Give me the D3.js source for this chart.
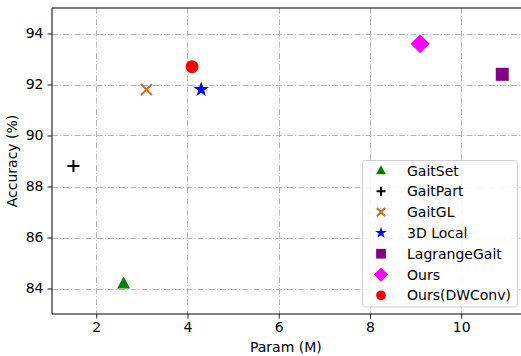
<!DOCTYPE html>
<html>
<head>
<meta charset="utf-8">
<script src="https://cdn.jsdelivr.net/npm/d3@7"></script>
<style>
  html, body { margin: 0; padding: 0; background: #fff; }
  svg text { font-family: "DejaVu Sans", sans-serif; }
</style>
</head>
<body>
<svg id="chart" width="521" height="356"></svg>
<script>
// 数据
var methods = ['GaitSet', 'GaitPart', 'GaitGL', '3D Local', 'LagrangeGait', 'Ours', 'Ours(DWConv)']
var params = [2.6, 1.5, 3.1, 4.3, 10.9, 9.1, 4.1]
var accs = [84.2, 88.8, 91.8, 91.8, 92.4, 93.6, 92.7]
var colors = ['green', '#000000', '#d2691e', 'blue', 'purple', '#ff00ff', 'red']
var shapes = ['triangle', 'plus', 'x', 'star', 'square', 'diamond', 'circle']
var xTicks = [2, 4, 6, 8, 10]
var yTicks = [84, 86, 88, 90, 92, 94]

var svg = d3.select('#chart')
var pLeft = 52, pRight = 523.7, pTop = 8, pBottom = 314

var x = d3.scaleLinear().domain([1.03, 11.37]).range([pLeft, pRight])
var y = d3.scaleLinear().domain([83, 95]).range([pBottom, pTop])

//网格线
var grid = svg.append('g').attr('class', 'grid')
grid.selectAll('.gx').data(xTicks).enter().append('line')
  .attr('x1', function(d){ return Math.round(x(d)) + 0.5 })
  .attr('x2', function(d){ return Math.round(x(d)) + 0.5 })
  .attr('y1', pTop).attr('y2', pBottom)
grid.selectAll('.gy').data(yTicks).enter().append('line')
  .attr('y1', function(d){ return Math.round(y(d)) + 0.5 })
  .attr('y2', function(d){ return Math.round(y(d)) + 0.5 })
  .attr('x1', pLeft).attr('x2', pRight)
grid.selectAll('line')
  .attr('stroke', '#b0b0b0')
  .attr('stroke-width', 0.9)
  .attr('stroke-dasharray', '6,2,1.2,2')

//坐标轴
var xAxis = d3.axisBottom(x).tickValues(xTicks).tickSize(4.5).tickPadding(4)
var yAxis = d3.axisLeft(y).tickValues(yTicks).tickSize(4.5).tickPadding(4)

var gx = svg.append('g').attr('transform', 'translate(0,' + pBottom + ')').call(xAxis)
var gy = svg.append('g').attr('transform', 'translate(' + pLeft + ',0)').call(yAxis)
;[gx, gy].forEach(function(g){
  g.select('.domain').remove()
  g.selectAll('line').attr('stroke', '#000').attr('stroke-width', 0.9)
  g.selectAll('text').attr('font-size', 14).attr('fill', '#000')
    .attr('font-family', '"DejaVu Sans", sans-serif')
})

//边框
svg.append('line').attr('x1', pLeft).attr('x2', pRight).attr('y1', pBottom).attr('y2', pBottom)
  .attr('stroke', '#000').attr('stroke-width', 1)
svg.append('line').attr('x1', pLeft).attr('x2', pLeft).attr('y1', pTop).attr('y2', pBottom)
  .attr('stroke', '#000').attr('stroke-width', 1)
svg.append('line').attr('x1', pLeft).attr('x2', pRight).attr('y1', pTop).attr('y2', pTop)
  .attr('stroke', '#000').attr('stroke-width', 1)

//坐标轴标题
svg.append('text').attr('x', (pLeft + pRight) / 2 - 2).attr('y', 352)
  .attr('text-anchor', 'middle').attr('font-size', 14).text('Param (M)')
svg.append('text')
  .attr('transform', 'translate(17,' + (pTop + pBottom) / 2 + ') rotate(-90)')
  .attr('text-anchor', 'middle').attr('font-size', 14).text('Accuracy (%)')

/**
 * 画标记
 * @param {number} k 缩放
 */
function drawMarker(g, shape, color, cx, cy, k){
  var p
  if(shape === 'triangle'){
    p = g.append('path').attr('d', 'M0,-7L6.5,5L-6.5,5Z').attr('fill', color)
  }else if(shape === 'plus'){
    p = g.append('path').attr('d', 'M-6,0H6M0,-6V6').attr('stroke', color)
      .attr('stroke-width', 2 / k).attr('fill', 'none')
  }else if(shape === 'x'){
    p = g.append('path').attr('d', 'M-5.5,-5.5L5.5,5.5M-5.5,5.5L5.5,-5.5').attr('stroke', color)
      .attr('stroke-width', 2 / k).attr('fill', 'none')
  }else if(shape === 'star'){
    p = g.append('path').attr('d', d3.symbol().type(d3.symbolStar).size(75)()).attr('fill', color)
  }else if(shape === 'square'){
    p = g.append('path').attr('d', 'M-6.5,-6.5H6.5V6.5H-6.5Z').attr('fill', color)
  }else if(shape === 'diamond'){
    p = g.append('path').attr('d', 'M0,-9.5L9.5,0L0,9.5L-9.5,0Z').attr('fill', color)
  }else{
    p = g.append('circle').attr('r', 6.5).attr('fill', color)
  }
  p.attr('transform', 'translate(' + cx + ',' + cy + ') scale(' + k + ')')
}

var points = svg.append('g').attr('class', 'points')
methods.forEach(function(m, i){
  drawMarker(points, shapes[i], colors[i], x(params[i]), y(accs[i]), 1)
})

//图例
var legend = svg.append('g').attr('class', 'legend')
legend.append('rect')
  .attr('x', 362.5).attr('y', 160.5).attr('width', 155).attr('height', 146.5)
  .attr('rx', 3).attr('fill', '#fff').attr('fill-opacity', 0.85)
  .attr('stroke', '#d0d0d0').attr('stroke-width', 1)
methods.forEach(function(m, i){
  var cy = 170.5 + i * 20.8
  drawMarker(legend, shapes[i], colors[i], 381, cy, 0.75)
  legend.append('text').attr('x', 407).attr('y', cy)
    .attr('dy', '0.36em').attr('font-size', 14).attr('fill', '#000').text(m)
})
</script>
</body>
</html>
